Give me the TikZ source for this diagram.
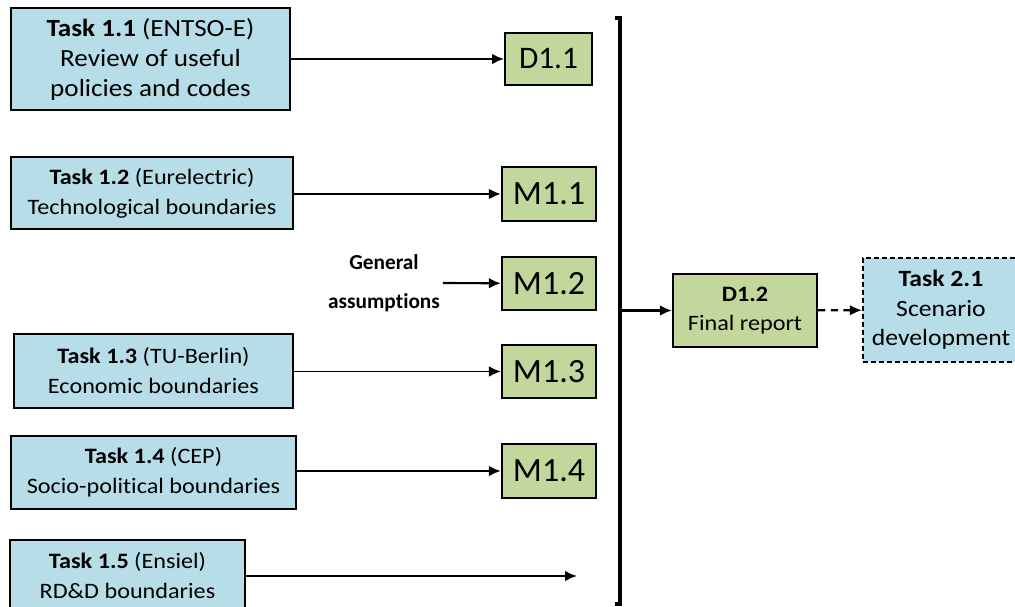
\documentclass[tikz,border=0pt]{standalone}
\usepackage{fontspec}
\setmainfont[Ligatures=NoCommon]{Carlito}
\newfontfamily\widefont[Ligatures=NoCommon, FakeStretch=1.1]{Carlito}
\usepackage{tikz}
\usetikzlibrary{arrows.meta,positioning}
\definecolor{ctask}{HTML}{B7DDE8}
\definecolor{cmile}{HTML}{C3D69B}

\begin{document}
\begin{tikzpicture}[
    x=0.75pt, y=-0.75pt,
    task/.style={draw=black, fill=ctask, line width=1.7pt, align=center, inner sep=0pt,
                 font=\widefont\fontsize{16.5}{22.5}\selectfont},
    mile/.style={draw=black, fill=cmile, line width=1.7pt, align=center, inner sep=0pt,
                 minimum width=70.5pt, minimum height=40pt, font=\fontsize{25.5}{28}\selectfont},
    arr/.style={-{Latex[length=9pt,width=8pt]}, line width=1.6pt},
    brace/.style={line width=2.8pt}
]
\useasboundingbox (0,0) rectangle (1015,607);
% tasks of work package 1
\node[task, minimum width=209pt, minimum height=76.5pt, font=\widefont\fontsize{18.5}{22.5}\selectfont] (t11) at (150.5,59)
    {\textbf{Task 1.1} (ENTSO-E)\\Review of useful\\policies and codes};
\node[task, minimum width=211.5pt, minimum height=54pt] (t12) at (152,193)
    {\textbf{Task 1.2} (Eurelectric)\\Technological boundaries};
\node[task, minimum width=209pt, minimum height=55.5pt] (t13) at (153.5,371)
    {\textbf{Task 1.3} (TU-Berlin)\\Economic boundaries};
\node[task, minimum width=214pt, minimum height=55pt] (t14) at (153.5,472.5)
    {\textbf{Task 1.4} (CEP)\\Socio-political boundaries};
\node[task, minimum width=176pt, minimum height=54pt] (t15) at (127.5,576)
    {\textbf{Task 1.5} (Ensiel)\\RD\&D boundaries};
% deliverables and milestones
\node[mile, minimum width=65pt, minimum height=39pt, font=\fontsize{23.5}{28}\selectfont] (d11) at (548.5,59) {D1.1};
\node[mile] (m11) at (549,194) {M1.1};
\node[mile] (m12) at (549,283.5) {M1.2};
\node[mile] (m13) at (549,371.5) {M1.3};
\node[mile] (m14) at (549,471) {M1.4};
\node[font=\bfseries\fontsize{16}{29}\selectfont, align=center, inner sep=0pt] (ga) at (384,283)
    {General\\assumptions};
\coordinate (e15) at (577,576);
\draw[arr] (t11) -- (d11);
\draw[arr] (t12.east |- m11) -- (m11);
\draw[arr] ([xshift=2pt]ga.east) -- (m12);
\draw[arr, line width=1pt] (t13.east |- m13) -- (m13);
\draw[arr] (t14.east |- m14) -- (m14);
\draw[arr] (t15.east |- e15) -- (e15);
% bracket collecting everything
\coordinate (bt) at (620,18);
\coordinate (bb) at (620,604);
\draw[brace] ([xshift=-4pt]bt) -- (bt) -- (bb) -- ([xshift=-4pt]bb);
\node[mile, minimum width=108pt, minimum height=55pt, font=\widefont\fontsize{16.5}{22}\selectfont] (d12) at (745,310.5)
    {\textbf{D1.2}\\Final report};
\node[task, dash pattern=on 3.5pt off 2.5pt, minimum width=117pt, minimum height=78pt,
      font=\widefont\fontsize{17.5}{22}\selectfont] (t21) at (941,310)
    {\textbf{Task 2.1}\\Scenario\\development};
\draw[arr] (bt |- d12) -- (d12);
\draw[arr, dash pattern=on 5.5pt off 4pt] (d12) -- (t21);
\end{tikzpicture}
\end{document}
